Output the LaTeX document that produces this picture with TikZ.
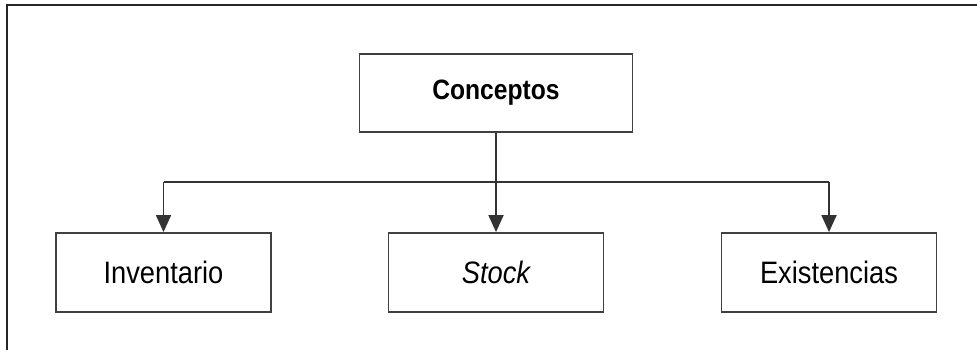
\documentclass[tikz,border=0pt]{standalone}
\usepackage{fontspec}
\setmainfont{Liberation Sans}[FakeStretch=0.88]
\usetikzlibrary{arrows.meta}

\begin{document}
\begin{tikzpicture}[x=1pt,y=-1pt,
  caja/.style={draw=black!75,line width=1.8pt,minimum width=215pt,minimum height=79pt,inner sep=0pt,font=\fontsize{31}{35}\selectfont},
  flecha/.style={draw=black!80,line width=1.8pt,-{Triangle[length=17pt,width=15pt]}}]
\useasboundingbox (0,0) rectangle (977,350);
\draw[line width=2pt,black!85] (7,350) -- (7,5) -- (977,5);
\node[caja,minimum width=273pt,minimum height=78pt,font=\bfseries\fontsize{28}{32}\selectfont] at (496,93) (conceptos) {Conceptos};
\node[caja] at (163.5,272.5) (inventario) {Inventario};
\node[caja] at (496,272.5) (stock) {\itshape Stock};
\node[caja] at (829,272.5) (existencias) {Existencias};
\coordinate (bar) at (496,182);

\draw[flecha] (conceptos) -- (stock);
\draw[draw=black!80,line width=1.8pt] (bar -| inventario) -- (bar -| existencias);
\draw[flecha] (bar -| inventario) -- (inventario);
\draw[flecha] (bar -| existencias) -- (existencias);
\end{tikzpicture}
\end{document}
